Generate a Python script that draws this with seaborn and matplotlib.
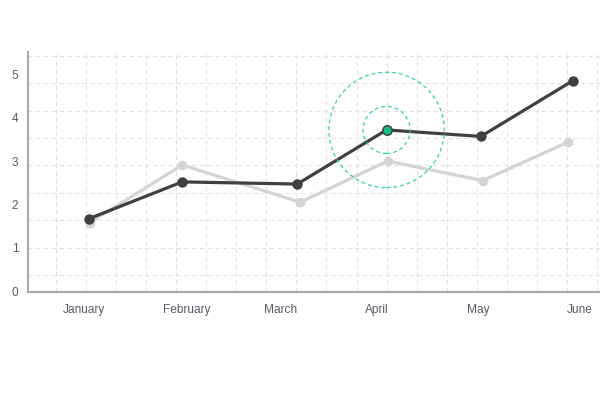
import numpy as np
import pandas as pd
import seaborn as sns
import matplotlib.pyplot as plt
from matplotlib.ticker import FixedLocator

months = ["January", "February", "March", "April", "May", "June"]

# dark series (x in month units)
dark_x = [0.05, 0.99, 2.15, 3.05, 4.00, 4.93]
dark_y = [1.67, 2.52, 2.47, 3.72, 3.57, 4.86]

# light series
light_x = [0.06, 0.99, 2.18, 3.06, 4.02, 4.88]
light_y = [1.58, 2.91, 2.05, 3.00, 2.55, 3.44]

highlight = 3  # April point of the dark series

y_ticks = [0, 1, 2, 3, 4, 5]

if __name__ == "__main__":

    sns.set_style("white")
    plt.rcParams['font.family'] = ['Liberation Sans', 'DejaVu Sans']

    dark = pd.DataFrame({"x": dark_x, "y": dark_y})
    light = pd.DataFrame({"x": light_x, "y": light_y})

    fig = plt.figure(figsize=(6, 4.01), dpi=100)
    ax = fig.add_axes([28 / 600, 109 / 401, 572 / 600, 240 / 401])

    sns.lineplot(data=light, x="x", y="y", sort=False, color="#d4d4d4",
                 linewidth=2.3, marker="o", markersize=7, markeredgewidth=0,
                 ax=ax, zorder=3)
    sns.lineplot(data=dark, x="x", y="y", sort=False, color="#404040",
                 linewidth=2.3, marker="o", markersize=7.5, markeredgewidth=0,
                 ax=ax, zorder=4)

    teal = "#2ad3a0"
    hx, hy = dark_x[highlight], dark_y[highlight]
    ax.scatter([hx], [hy], s=6900, facecolors="none", edgecolors=teal,
               linewidths=0.9, linestyles=(0, (3, 2.5)), zorder=5)
    ax.scatter([hx], [hy], s=1150, facecolors="none", edgecolors=teal,
               linewidths=0.9, linestyles=(0, (3, 2.5)), zorder=5)
    ax.scatter([hx], [hy], s=45, color="#1abc8c", edgecolors="#404040",
               linewidths=1.0, zorder=6)

    ax.set_xlim(-0.5645, 5.2016)
    ax.set_ylim(-0.023, 5.52)

    ax.set_xticks([0, 1.038, 1.986, 2.954, 3.97, 5.0])
    ax.set_xticklabels(months)
    ax.set_yticks(y_ticks)
    ax.set_yticklabels([str(v) for v in y_ticks])

    ax.xaxis.set_minor_locator(FixedLocator(-0.282 + 0.3029 * np.arange(19)))
    ax.yaxis.set_minor_locator(FixedLocator(0.37 + 0.633 * np.arange(9)))
    ax.grid(False, which="major")
    ax.grid(True, which="minor", color="#e2e2e2", linestyle=(0, (4, 3)),
            linewidth=0.8)
    ax.set_axisbelow(True)

    ax.tick_params(which="both", length=0)
    ax.tick_params(axis="x", pad=15, labelsize=8.6, labelcolor="#555b66")
    ax.tick_params(axis="y", pad=7, labelsize=8.6, labelcolor="#555b66")
    for lab in ax.get_xticklabels():
        lab.set_verticalalignment("baseline")

    for side in ["top", "right"]:
        ax.spines[side].set_visible(False)
    for side in ["left", "bottom"]:
        ax.spines[side].set_color("#a8a8a8")
        ax.spines[side].set_linewidth(1.5)

    ax.set_xlabel("")
    ax.set_ylabel("")
    plt.savefig("out.png", dpi=100)
